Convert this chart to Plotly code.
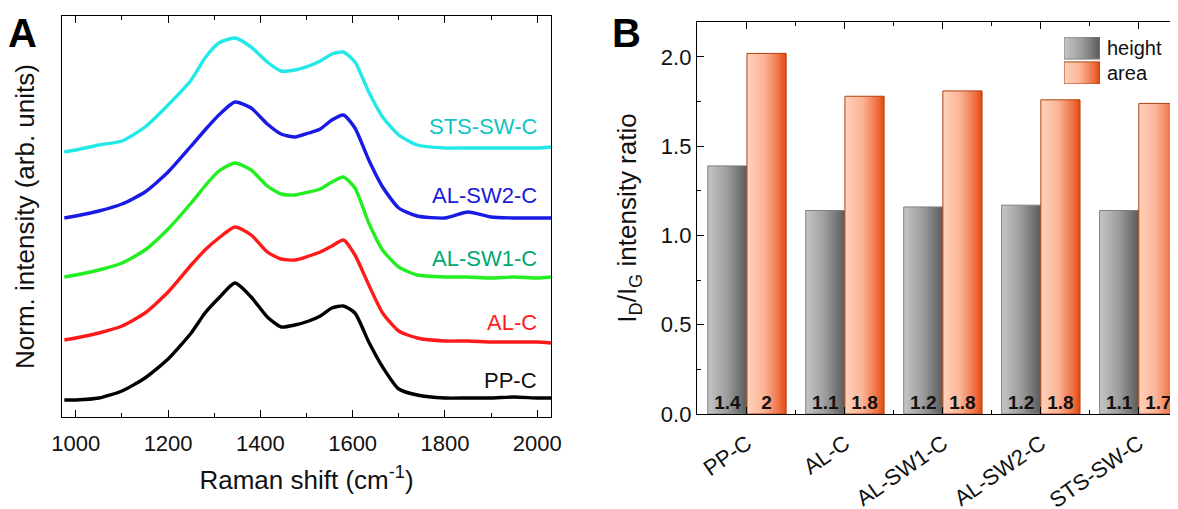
import plotly.graph_objects as go

# Raman spectra (offset stacked, arbitrary units)
raman_shift = [975, 1000, 1050, 1100, 1150, 1200, 1250, 1280, 1310, 1345, 1380, 1415, 1445, 1475, 1505,
               1530, 1555, 1580, 1605, 1635, 1665, 1700, 1740, 1800, 1850, 1900, 1950, 2000, 2030]
pp_c = [0.17, 0.17, 0.19, 0.26, 0.39, 0.58, 0.84, 1.04, 1.19, 1.34, 1.20, 1.00, 0.90, 0.92, 0.96,
        1.01, 1.09, 1.11, 1.04, 0.75, 0.50, 0.28, 0.22, 0.19, 0.19, 0.19, 0.20, 0.19, 0.19]
al_c = [0.77, 0.79, 0.84, 0.91, 1.04, 1.25, 1.52, 1.67, 1.79, 1.90, 1.82, 1.65, 1.58, 1.57, 1.61,
        1.65, 1.71, 1.77, 1.62, 1.32, 1.04, 0.86, 0.79, 0.76, 0.76, 0.75, 0.75, 0.75, 0.74]
al_sw1_c = [1.40, 1.42, 1.47, 1.54, 1.67, 1.88, 2.14, 2.31, 2.46, 2.54, 2.47, 2.31, 2.23, 2.22, 2.25,
            2.28, 2.35, 2.40, 2.29, 1.94, 1.67, 1.50, 1.42, 1.40, 1.40, 1.39, 1.40, 1.39, 1.40]
al_sw2_c = [1.99, 2.01, 2.06, 2.13, 2.25, 2.45, 2.71, 2.87, 3.02, 3.15, 3.09, 2.93, 2.83, 2.80, 2.84,
            2.88, 2.97, 3.02, 2.89, 2.57, 2.30, 2.09, 2.01, 1.99, 2.05, 2.00, 1.99, 1.99, 1.99]
sts_sw_c = [2.65, 2.67, 2.72, 2.76, 2.90, 3.12, 3.37, 3.59, 3.74, 3.79, 3.70, 3.55, 3.46, 3.47, 3.51,
            3.56, 3.63, 3.65, 3.55, 3.25, 3.00, 2.82, 2.72, 2.69, 2.69, 2.69, 2.69, 2.69, 2.70]

# I_D/I_G ratios, panel B
samples = ["PP-C", "AL-C", "AL-SW1-C", "AL-SW2-C", "STS-SW-C"]
ratio_height = [1.39, 1.14, 1.16, 1.17, 1.14]
ratio_area = [2.02, 1.78, 1.81, 1.76, 1.74]

FONT = "Liberation Sans, Arial, sans-serif"

# the page body adds an 8px margin, so the figure is shrunk by that much
# and target pixel positions are converted to paper fractions
OFF = 8
W, H = 1178 - OFF, 509 - OFF


def xd(p):
    return (p - OFF) / W


def yd(p):
    return 1 - (p - OFF) / H


spectra = [
    ("PP-C", pp_c, "#000000", "#111111"),
    ("AL-C", al_c, "#ff1a1a", "#ff1a1a"),
    ("AL-SW1-C", al_sw1_c, "#22ee22", "#00a870"),
    ("AL-SW2-C", al_sw2_c, "#1a1ae6", "#1a1ad8"),
    ("STS-SW-C", sts_sw_c, "#22e8e8", "#10c4c4"),
]

fig = go.Figure()

for name, ys, col, _ in spectra:
    fig.add_trace(go.Scatter(x=raman_shift, y=ys, mode="lines", name=name,
                             line=dict(color=col, width=3.4, shape="spline", smoothing=0.6),
                             showlegend=False, xaxis="x", yaxis="y"))

# curve labels at the right end of each spectrum
label_y = {"PP-C": 0.37, "AL-C": 0.95, "AL-SW1-C": 1.59, "AL-SW2-C": 2.22, "STS-SW-C": 2.90}
annotations = []
for name, _, _, tcol in spectra:
    annotations.append(dict(x=2005, y=label_y[name], xref="x", yref="y", text=name, showarrow=False,
                            xanchor="right", yanchor="middle", font=dict(size=22, color=tcol, family=FONT)))

# bars with a left-to-right gradient, like the Origin style
grey_scale = [[0, "#c6c6c6"], [0.5, "#9c9c9c"], [1, "#5a5a5a"]]
orange_scale = [[0, "#ffd3bc"], [0.45, "#fbb396"], [0.8, "#ef7448"], [1, "#e24a0e"]]
series = [("height", ratio_height, grey_scale, "#808080", -1),
          ("area", ratio_area, orange_scale, "#b04010", 0)]
bar_w = 0.4
for i in range(len(samples)):
    for nm, vals, cs, lc, side in series:
        x0 = i + side * bar_w
        x1 = x0 + bar_w
        val = vals[i]
        fig.add_trace(go.Scatter(x=[x0, x1, x1, x0, x0], y=[0, 0, val, val, 0], mode="lines",
                                 fill="toself", fillgradient=dict(type="horizontal", colorscale=cs),
                                 line=dict(color=lc, width=1), name=nm, legendgroup=nm,
                                 showlegend=False, xaxis="x2", yaxis="y2", hoverinfo="name+y"))
    # value labels at the bottom of the bars
    fig.add_trace(go.Scatter(x=[i - bar_w / 2, i + bar_w / 2], y=[0, 0], mode="text",
                             text=["%g" % round(ratio_height[i], 1), "%g" % round(ratio_area[i], 1)],
                             textposition="top center",
                             textfont=dict(size=19, family=FONT, color="#111111", weight="bold"),
                             showlegend=False, hoverinfo="skip", xaxis="x2", yaxis="y2"))

# legend drawn on a small overlay axis so the swatches can carry the same gradient
legend_rows = [(37, 59), (62, 84)]
for (nm, vals, cs, lc, side), (top, bot) in zip(series, legend_rows):
    y0 = 1.06 if nm == "height" else 0.0
    fig.add_trace(go.Scatter(x=[0, 1, 1, 0, 0], y=[y0, y0, y0 + 0.94, y0 + 0.94, y0], mode="lines",
                             fill="toself", fillgradient=dict(type="horizontal", colorscale=cs),
                             line=dict(color=lc, width=1), showlegend=False, hoverinfo="skip",
                             xaxis="x3", yaxis="y3"))
    annotations.append(dict(x=xd(1105), y=yd((top + bot) / 2), xref="paper", yref="paper", text=nm,
                            showarrow=False, xanchor="left", yanchor="middle",
                            font=dict(size=20, family=FONT, color="#111")))

annotations += [
    dict(x=xd(6), y=yd(9), xref="paper", yref="paper", text="<b>A</b>", showarrow=False,
         xanchor="left", yanchor="top", font=dict(size=40, family=FONT, color="black")),
    dict(x=xd(610), y=yd(9), xref="paper", yref="paper", text="<b>B</b>", showarrow=False,
         xanchor="left", yanchor="top", font=dict(size=40, family=FONT, color="black")),
]

axis_common = dict(showline=True, linecolor="black", linewidth=1.3, mirror="ticks", ticks="inside",
                   tickcolor="black", tickwidth=1.3, ticklen=7, showgrid=False, zeroline=False,
                   automargin=False, tickfont=dict(size=22, family=FONT, color="#111"))

fig.update_layout(
    width=W, height=H, margin=dict(l=0, r=0, t=0, b=0),
    plot_bgcolor="white", paper_bgcolor="white", showlegend=False,
    font=dict(family=FONT, color="#111"),
    xaxis=dict(axis_common, domain=[xd(62), xd(551)], range=[970, 2030], dtick=200, tick0=1000,
               ticklabelstandoff=6,
               minor=dict(dtick=100, ticks="inside", ticklen=4, tickcolor="black", tickwidth=1.3),
               title=dict(text="Raman shift (cm<sup>-1</sup>)", font=dict(size=26, family=FONT), standoff=16),
               anchor="y"),
    yaxis=dict(axis_common, domain=[yd(417), yd(16)], range=[0, 4.01], ticks="",
               showticklabels=False,
               title=dict(text="Norm. intensity (arb. units)", font=dict(size=26, family=FONT), standoff=18),
               anchor="x"),
    xaxis2=dict(axis_common, domain=[xd(697), min(1.0, xd(1177))], range=[-0.51, 4.39],
                tickvals=list(range(5)), ticktext=samples, tickangle=-35, ticklabelstandoff=7,
                minor=dict(tickvals=[0.5, 1.5, 2.5, 3.5], ticks="inside", ticklen=4, tickcolor="black",
                           tickwidth=1.3),
                anchor="y2"),
    yaxis2=dict(axis_common, domain=[yd(414), yd(22)], range=[0, 2.196], dtick=0.5,
                tickformat=".1f",
                minor=dict(dtick=0.25, ticks="inside", ticklen=4, tickcolor="black", tickwidth=1.3),
                title=dict(text="I<sub>D</sub>/I<sub>G</sub> intensity ratio", font=dict(size=26, family=FONT),
                           standoff=16),
                anchor="x2"),
    xaxis3=dict(domain=[xd(1064), xd(1100)], range=[0, 1], visible=False, fixedrange=True, anchor="y3"),
    yaxis3=dict(domain=[yd(84), yd(37)], range=[0, 2.0], visible=False, fixedrange=True, anchor="x3"),
    annotations=annotations,
)

fig.write_html("out.html")
